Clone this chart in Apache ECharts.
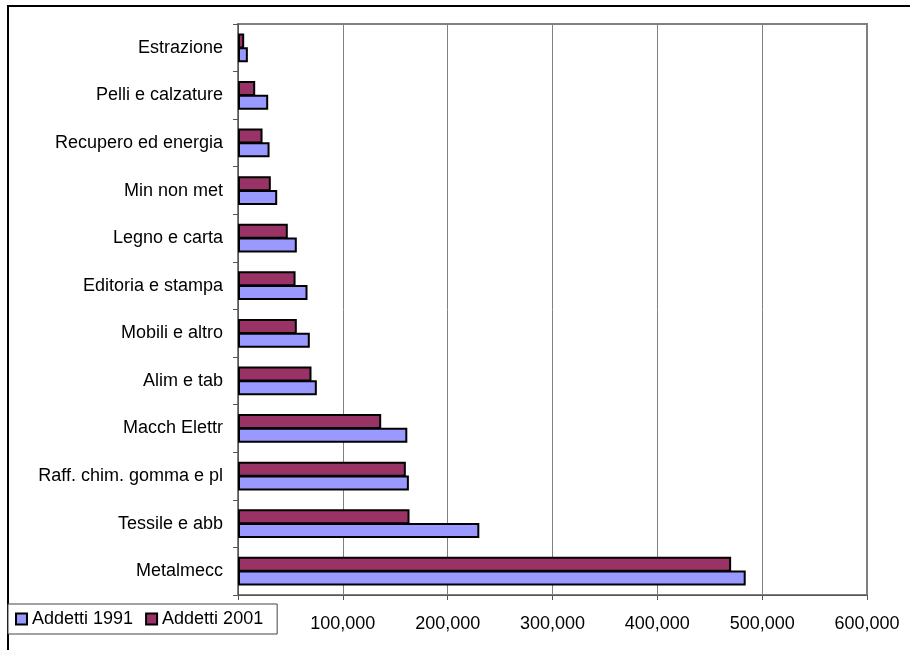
<!DOCTYPE html>
<html>
<head>
<meta charset="utf-8">
<script src="https://cdn.jsdelivr.net/npm/echarts@6/dist/echarts.min.js"></script>
<style>
  html, body { margin: 0; padding: 0; background: #fff; }
  #chart { width: 910px; height: 650px; }
</style>
</head>
<body>
<div id="chart"></div>
<script>
// categories listed top to bottom, as in the picture
const categories = [
  "Estrazione", "Pelli e calzature", "Recupero ed energia", "Min non met",
  "Legno e carta", "Editoria e stampa", "Mobili e altro", "Alim e tab",
  "Macch Elettr", "Raff. chim. gomma e pl", "Tessile e abb", "Metalmecc"
];
const addetti1991 = [9400, 28800, 30100, 37400, 56100, 66300, 68500, 75200, 161500, 163000, 230200, 484300];
const addetti2001 = [5900, 16400, 23400, 31300, 47500, 54900, 56100, 70100, 136600, 160100, 163600, 470400];
const xTicks = { min: 0, max: 600000, interval: 100000 };

const chart = echarts.init(document.getElementById("chart"));

const font = "Liberation Sans, Arial, sans-serif";

chart.setOption({
  animation: false,
  textStyle: { fontFamily: font },
  graphic: [
    {
      type: "rect",
      shape: { x: 8, y: 6, width: 1000, height: 1000 },
      style: { fill: null, stroke: "#000", lineWidth: 2 },
      z: -1
    }
  ],
  grid: {
    left: 238, right: 43, top: 24, bottom: 55,
    show: true, borderColor: "#808080", borderWidth: 2, backgroundColor: "transparent"
  },
  legend: {
    left: 8, top: 604,
    data: ["Addetti 1991", "Addetti 2001"],
    orient: "horizontal",
    backgroundColor: "#fff",
    borderColor: "#444",
    borderWidth: 1,
    borderRadius: 0,
    padding: [6, 14, 6, 7],
    itemGap: 12,
    itemWidth: 11,
    itemHeight: 11,
    icon: "rect",
    textStyle: { fontSize: 18, color: "#000", fontFamily: font }
  },
  xAxis: {
    type: "value",
    min: xTicks.min, max: xTicks.max, interval: xTicks.interval,
    axisLine: { show: true, lineStyle: { color: "#555", width: 1 } },
    axisTick: { show: true, length: 5, lineStyle: { color: "#555" } },
    splitLine: { show: true, lineStyle: { color: "#808080", width: 1 } },
    axisLabel: {
      color: "#000", fontSize: 18, margin: 20, fontFamily: font,
      formatter: v => v.toLocaleString("en-US")
    }
  },
  yAxis: {
    type: "category",
    data: categories,
    inverse: true,
    axisLine: { show: true, lineStyle: { color: "#555", width: 1 } },
    axisTick: { show: true, length: 5, lineStyle: { color: "#555" } },
    axisLabel: { color: "#000", fontSize: 18, margin: 15, fontFamily: font }
  },
  series: [
    {
      name: "Addetti 2001",
      type: "bar",
      data: addetti2001,
      barWidth: 15,
      barGap: "-8%",
      itemStyle: { color: "#993366", borderColor: "#000", borderWidth: 2 }
    },
    {
      name: "Addetti 1991",
      type: "bar",
      data: addetti1991,
      barWidth: 15,
      barGap: "-8%",
      itemStyle: { color: "#9999FF", borderColor: "#000", borderWidth: 2 }
    }
  ]
});
</script>
</body>
</html>
